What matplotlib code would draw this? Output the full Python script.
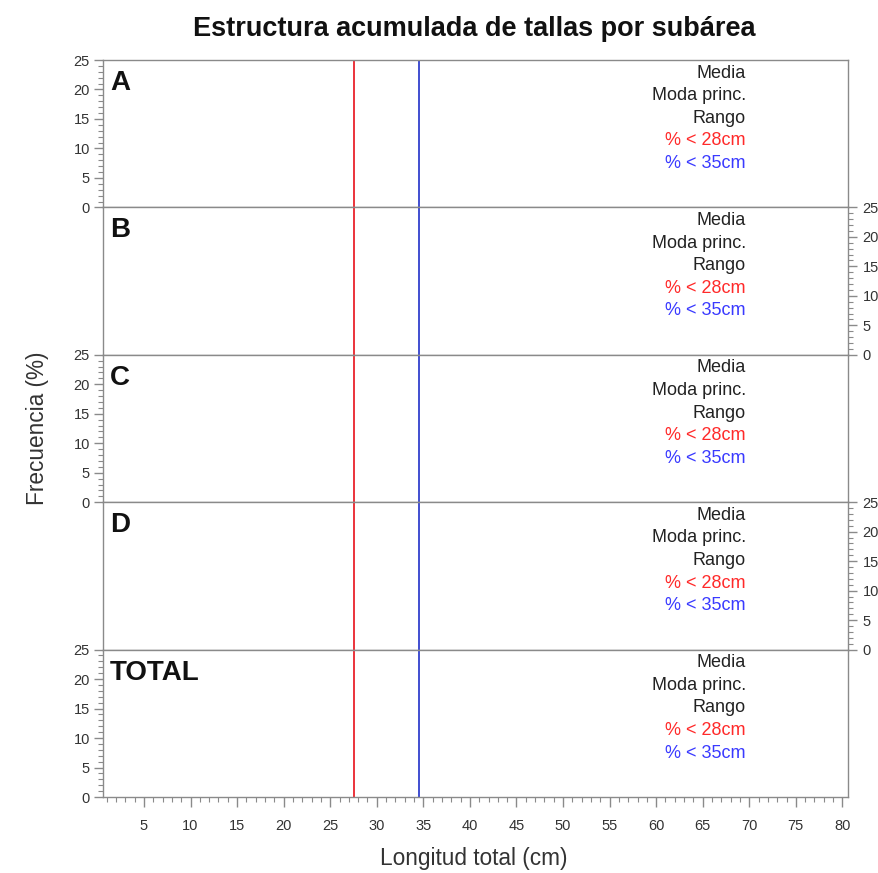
import matplotlib
matplotlib.use('Agg')
import matplotlib.pyplot as plt
from matplotlib.ticker import MultipleLocator

plt.rcParams['font.family'] = ['Liberation Sans', 'DejaVu Sans']

# panels and annotations
panels = ['A', 'B', 'C', 'D', 'TOTAL']
y_side = ['left', 'right', 'left', 'right', 'left']
stat_labels = ['Media', 'Moda princ.', 'Rango', '% < 28cm', '% < 35cm']
stat_colors = ['#222222', '#222222', '#222222', '#ff2a2a', '#3a3aff']

# reference lengths (cm)
ref_lengths = [27.5, 34.5]
ref_colors = ['#e8101a', '#2030c8']

x_ticks = list(range(5, 85, 5))
y_ticks = [0, 5, 10, 15, 20, 25]

spine_col = '#8a8a8a'
txt_col = '#333333'

fig, axes = plt.subplots(5, 1, sharex=True, figsize=(8.79, 8.73), dpi=100)
fig.subplots_adjust(left=103/879, right=848/879, top=1-60/873, bottom=1-797/873, hspace=0)

for i, ax in enumerate(axes):
    ax.set_xlim(0.6, 80.6)
    ax.set_ylim(0, 25)
    for sp in ax.spines.values():
        sp.set_color(spine_col)
        sp.set_linewidth(1.0)
    for xv, c in zip(ref_lengths, ref_colors):
        ax.axvline(xv, color=c, lw=1.2)

    ax.yaxis.set_major_locator(MultipleLocator(5))
    ax.yaxis.set_minor_locator(MultipleLocator(1))
    ax.set_yticks(y_ticks)
    if y_side[i] == 'right':
        ax.yaxis.tick_right()
        ax.tick_params(axis='y', which='major', pad=4)
    else:
        ax.yaxis.tick_left()
        ax.tick_params(axis='y', which='major', pad=3)
    ax.tick_params(axis='y', which='major', length=6.5, width=1, color=spine_col,
                   labelsize=10.5, labelcolor=txt_col)
    ax.tick_params(axis='y', which='minor', length=3.6, width=0.8, color=spine_col)

    ax.xaxis.set_major_locator(MultipleLocator(5))
    ax.xaxis.set_minor_locator(MultipleLocator(1))
    if i < len(axes) - 1:
        ax.tick_params(axis='x', which='both', bottom=False, labelbottom=False)
    else:
        ax.set_xticks(x_ticks)
        ax.tick_params(axis='x', which='major', length=7, width=1, color=spine_col,
                       labelsize=10.5, labelcolor=txt_col, pad=9)
        ax.tick_params(axis='x', which='minor', length=3.6, width=0.8, color=spine_col)

    ax.text(7/745, 1 - 23/147.4, panels[i], transform=ax.transAxes, ha='left', va='center',
            fontsize=20, fontweight='bold', color='#111111')

    for j, (lab, col) in enumerate(zip(stat_labels, stat_colors)):
        ax.text((746-103)/745, 1 - (13 + j*22.6)/147.4, lab, transform=ax.transAxes,
                ha='right', va='center', fontsize=13, color=col)

fig.text(474/879, 1-29/873, 'Estructura acumulada de tallas por subárea', ha='center', va='center',
         fontsize=19.5, fontweight='bold', color='#111111')
fig.text(474/879, 1-858/873, 'Longitud total (cm)', ha='center', va='center',
         fontsize=16.3, color=txt_col)
fig.text(38/879, 1-428/873, 'Frecuencia (%)', ha='center', va='center', rotation=90,
         fontsize=16.3, color=txt_col)

fig.savefig('out.png', dpi=100)
